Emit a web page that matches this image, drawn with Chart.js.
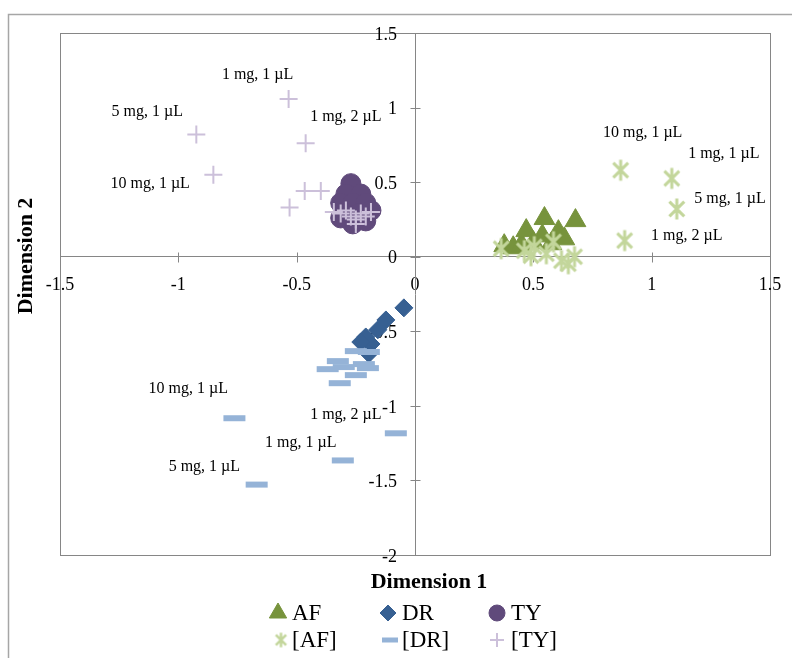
<!DOCTYPE html>
<html>
<head>
<meta charset="utf-8">
<script src="https://cdn.jsdelivr.net/npm/chart.js@4.4.1/dist/chart.umd.min.js"></script>
<style>
  html, body { margin: 0; padding: 0; background: #fff; }
</style>
</head>
<body>
<canvas id="chart" width="792" height="658"></canvas>
<script>
// series values (Dimension 1 / Dimension 2)
const afX = [0.377, 0.415, 0.45, 0.47, 0.5, 0.538, 0.547, 0.576, 0.606, 0.631, 0.678];
const afY = [0.074, 0.06, 0.08, 0.175, 0.094, 0.14, 0.256, 0.087, 0.168, 0.12, 0.242];

const drX = [-0.047, -0.123, -0.157, -0.208, -0.186, -0.229, -0.195];
const drY = [-0.343, -0.424, -0.49, -0.538, -0.585, -0.572, -0.65];

const tyX = [-0.271, -0.292, -0.229, -0.314, -0.263, -0.208, -0.292, -0.237, -0.186, -0.314, -0.263, -0.208];
const tyY = [0.49, 0.42, 0.42, 0.36, 0.36, 0.36, 0.29, 0.29, 0.31, 0.26, 0.22, 0.24];

const afStdX = [0.869, 1.085, 1.106, 0.886, 0.364, 0.462, 0.49, 0.504, 0.555, 0.585, 0.619, 0.648, 0.674];
const afStdY = [0.58, 0.525, 0.32, 0.108, 0.054, 0.04, 0.007, 0.067, 0.02, 0.10, -0.027, -0.047, 0.0];

const drStdX = [-0.25, -0.195, -0.326, -0.369, -0.216, -0.301, -0.199, -0.25, -0.318, -0.763, -0.081, -0.305, -0.669];
const drStdY = [-0.633, -0.639, -0.70, -0.754, -0.72, -0.74, -0.747, -0.794, -0.848, -1.083, -1.184, -1.366, -1.528];

const tyStdX = [-0.534, -0.924, -0.462, -0.852, -0.466, -0.398, -0.53, -0.343, -0.314, -0.292, -0.271, -0.25, -0.229, -0.208, -0.186, -0.25];
const tyStdY = [1.057, 0.82, 0.76, 0.55, 0.44, 0.44, 0.33, 0.30, 0.29, 0.31, 0.27, 0.25, 0.29, 0.27, 0.30, 0.22];

// point annotations (text, Dimension 1, Dimension 2)
const noteText = ['1 mg, 1 µL', '5 mg, 1 µL', '1 mg, 2 µL', '10 mg, 1 µL',
                  '10 mg, 1 µL', '1 mg, 1 µL', '5 mg, 1 µL', '1 mg, 2 µL',
                  '10 mg, 1 µL', '1 mg, 2 µL', '1 mg, 1 µL', '5 mg, 1 µL'];
const noteX = [-0.665, -1.131, -0.292, -1.119, 0.962, 1.305, 1.331, 1.148, -0.958, -0.292, -0.483, -0.89];
const noteY = [1.218, 0.969, 0.935, 0.491, 0.828, 0.693, 0.39, 0.141, -0.888, -1.057, -1.245, -1.406];

// axes
const xTicks = [-1.5, -1, -0.5, 0, 0.5, 1, 1.5];
const yTicks = [-2, -1.5, -1, -0.5, 0, 0.5, 1, 1.5];

const SERIF = '"Liberation Serif", "Times New Roman", serif';
const AXIS_GREY = '#868686';

function toPoints(xs, ys) {
  return xs.map((x, i) => ({ x, y: ys[i] }));
}

// asterisk marker (X plus vertical stroke), Excel style
function makeAsterisk(size, color, lw) {
  const c = document.createElement('canvas');
  c.width = size; c.height = size;
  const g = c.getContext('2d');
  const m = size / 2, r = size / 2 - lw / 2;
  const d = r * Math.SQRT1_2;
  g.strokeStyle = color;
  g.lineWidth = lw;
  g.beginPath();
  g.moveTo(m, m - r); g.lineTo(m, m + r);
  g.moveTo(m - d, m - d); g.lineTo(m + d, m + d);
  g.moveTo(m + d, m - d); g.lineTo(m - d, m + d);
  g.stroke();
  return c;
}
const starBig = makeAsterisk(24, '#c3d69b', 3);
const starSmall = makeAsterisk(17, '#c3d69b', 2.5);

const legendItems = [
  { text: 'AF',   style: 'triangle', color: '#77933c', r: 10, bw: 1 },
  { text: 'DR',   style: 'rectRot',  color: '#376092', r: 8,  bw: 1 },
  { text: 'TY',   style: 'circle',   color: '#604a7b', r: 8,  bw: 1 },
  { text: '[AF]', style: starSmall,  color: '#c3d69b', r: 8,  bw: 0 },
  { text: '[DR]', style: 'line',     color: '#95b3d7', r: 8,  bw: 5 },
  { text: '[TY]', style: 'cross',    color: '#ccc0da', r: 7,  bw: 2 }
];

const excelLook = {
  id: 'excelLook',
  beforeDraw(chart) {
    const { ctx, chartArea: a } = chart;
    ctx.save();
    ctx.fillStyle = '#fff';
    ctx.fillRect(0, 0, chart.width, chart.height);
    ctx.strokeStyle = '#a6a6a6';
    ctx.lineWidth = 1.5;
    ctx.strokeRect(8.5, 14.5, chart.width + 20, chart.height + 20);
    ctx.strokeStyle = AXIS_GREY;
    ctx.lineWidth = 1;
    ctx.strokeRect(Math.round(a.left) + 0.5, Math.round(a.top) + 0.5,
                   Math.round(a.right - a.left), Math.round(a.bottom - a.top));
    ctx.restore();
  },
  beforeDatasetsDraw(chart) {
    // cross tick marks on the centred axes
    const { ctx, scales: { x, y } } = chart;
    const x0 = Math.round(x.getPixelForValue(0)) + 0.5;
    const y0 = Math.round(y.getPixelForValue(0)) + 0.5;
    ctx.save();
    ctx.strokeStyle = AXIS_GREY;
    ctx.lineWidth = 1;
    ctx.beginPath();
    xTicks.forEach(v => {
      const px = Math.round(x.getPixelForValue(v)) + 0.5;
      ctx.moveTo(px, y0 - 5); ctx.lineTo(px, y0 + 5);
    });
    yTicks.forEach(v => {
      const py = Math.round(y.getPixelForValue(v)) + 0.5;
      ctx.moveTo(x0 - 5, py); ctx.lineTo(x0 + 5, py);
    });
    ctx.stroke();
    ctx.restore();
  },
  afterDraw(chart) {
    const { ctx, chartArea: a, scales: { x, y } } = chart;
    ctx.save();
    ctx.fillStyle = '#000';

    // annotations
    ctx.font = '16px ' + SERIF;
    ctx.textAlign = 'center';
    ctx.textBaseline = 'middle';
    noteText.forEach((t, i) => {
      ctx.fillText(t, x.getPixelForValue(noteX[i]), y.getPixelForValue(noteY[i]));
    });

    // axis titles
    ctx.font = 'bold 22px ' + SERIF;
    ctx.fillText('Dimension 1', (a.left + a.right) / 2 + 14, a.bottom + 27);
    ctx.save();
    ctx.translate(26, (a.top + a.bottom) / 2 - 38);
    ctx.rotate(-Math.PI / 2);
    ctx.fillText('Dimension 2', 0, 0);
    ctx.restore();

    // legend: 3 columns x 2 rows
    const colIcon = [278, 388, 497];
    const rowY = [613, 640];
    ctx.font = '23px ' + SERIF;
    ctx.textAlign = 'left';
    legendItems.forEach((it, i) => {
      const cx = colIcon[i % 3] + (i === 3 ? 3 : i === 4 ? 2 : 0);
      const cy = rowY[Math.floor(i / 3)];
      ctx.fillStyle = it.color;
      ctx.strokeStyle = it.color;
      ctx.lineWidth = it.bw;
      Chart.helpers.drawPoint(ctx, { pointStyle: it.style, radius: it.r, borderWidth: it.bw, rotation: 0 }, cx, cy);
      ctx.fillStyle = '#000';
      ctx.fillText(it.text, colIcon[i % 3] + 14, cy + 1);
    });
    ctx.restore();
  }
};

new Chart(document.getElementById('chart'), {
  type: 'scatter',
  data: {
    datasets: [
      { label: 'AF', data: toPoints(afX, afY), pointStyle: 'triangle', pointRadius: 12,
        backgroundColor: '#77933c', borderColor: '#77933c', borderWidth: 1, order: 6 },
      { label: 'DR', data: toPoints(drX, drY), pointStyle: 'rectRot', pointRadius: 9,
        backgroundColor: '#376092', borderColor: '#376092', borderWidth: 1, order: 5 },
      { label: 'TY', data: toPoints(tyX, tyY), pointStyle: 'circle', pointRadius: 10,
        backgroundColor: '#604a7b', borderColor: '#604a7b', borderWidth: 1, order: 4 },
      { label: '[AF]', data: toPoints(afStdX, afStdY), pointStyle: starBig, pointRadius: 12,
        backgroundColor: '#c3d69b', borderColor: '#c3d69b', order: 3 },
      { label: '[DR]', data: toPoints(drStdX, drStdY), pointStyle: 'line', pointRadius: 11,
        backgroundColor: '#95b3d7', borderColor: '#95b3d7', borderWidth: 6, order: 2 },
      { label: '[TY]', data: toPoints(tyStdX, tyStdY), pointStyle: 'cross', pointRadius: 9,
        backgroundColor: '#ccc0da', borderColor: '#ccc0da', borderWidth: 2, order: 1 }
    ]
  },
  options: {
    responsive: false,
    animation: false,
    events: [],
    layout: { padding: { left: 60, top: 33, right: 22, bottom: 103 } },
    plugins: {
      legend: { display: false },
      tooltip: { enabled: false }
    },
    scales: {
      x: {
        type: 'linear',
        min: -1.5, max: 1.5,
        position: { y: 0 },
        z: 1,
        afterBuildTicks: s => { s.ticks = xTicks.map(v => ({ value: v })); },
        ticks: { color: '#000', font: { family: SERIF, size: 18 }, padding: 4,
                 maxRotation: 0, autoSkip: false, callback: v => String(v) },
        grid: { display: true, drawOnChartArea: false, drawTicks: true, tickLength: 14, color: 'rgba(0,0,0,0)' },
        border: { display: true, color: AXIS_GREY, width: 1 }
      },
      y: {
        type: 'linear',
        min: -2, max: 1.5,
        position: { x: 0 },
        z: 1,
        afterBuildTicks: s => { s.ticks = yTicks.map(v => ({ value: v })); },
        // centred axis draws labels flush to the line; trailing spaces give Excel's gap
        ticks: { color: '#000', font: { family: SERIF, size: 18 }, padding: 4, labelOffset: 2,
                 autoSkip: false, callback: v => String(v) + '    ' },
        grid: { display: true, drawOnChartArea: false, drawTicks: true, tickLength: 14, color: 'rgba(0,0,0,0)' },
        border: { display: true, color: AXIS_GREY, width: 1 }
      }
    }
  },
  plugins: [excelLook]
});
</script>
</body>
</html>
